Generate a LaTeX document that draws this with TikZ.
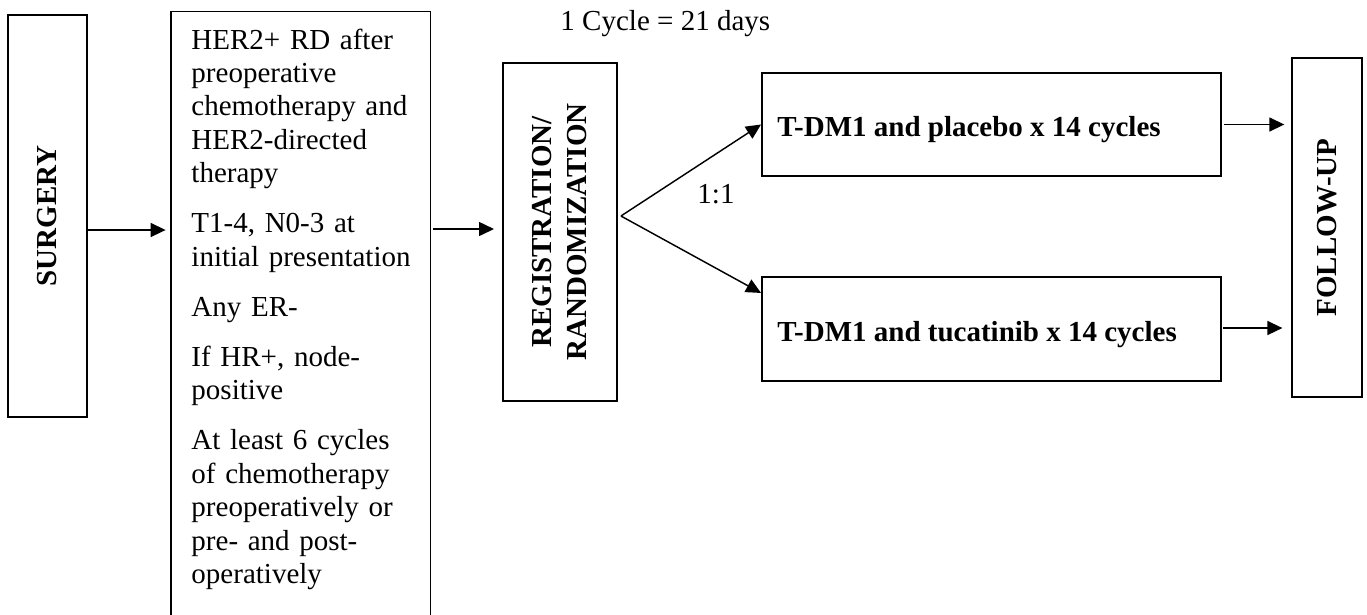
\documentclass[tikz,border=0pt,12pt]{standalone}
\usepackage{fontspec}
\setmainfont{Liberation Serif}
\usetikzlibrary{arrows.meta}

\begin{document}
\begin{tikzpicture}[x=0.41379pt, y=-0.41379pt,
  box/.style={draw, line width=0.83pt, inner sep=0pt},
  thinbox/.style={draw, line width=0.45pt, inner sep=0pt},
  vlabel/.style={rotate=90, font=\bfseries, align=center, inner sep=0pt},
  armtext/.style={anchor=base west, inner sep=0pt, font=\bfseries},
  crittext/.style={anchor=base west, inner sep=0pt, align=left, text width=97pt,
    font=\fontsize{12}{13.86}\selectfont},
  arr/.style={-{Triangle[length=6.2pt, width=5.8pt]}, line width=0.6pt}]
  \clip (0,0) rectangle (1367,614);
  \node[box, minimum width=32.7pt, minimum height=166.3pt] (surgery) at (47.5,216) {};
  \node[vlabel] (surgerytxt) at (surgery.center) {SURGERY};
  \node[thinbox, minimum width=107.2pt, minimum height=256.1pt] (crit) at (300.5,320.5) {};
  \node[crittext] (crittxt) at (191,49) {HER2+ RD after\\
    preoperative\\
    chemotherapy and\\
    HER2-directed\\
    therapy\\[6.8pt]
    T1-4, N0-3 at\\
    initial presentation\\[6.8pt]
    Any ER-\\[6.8pt]
    If HR+, node-\\
    positive\\[6.8pt]
    At least 6 cycles\\
    of chemotherapy\\
    preoperatively or\\
    pre- and post-\\
    operatively};
  \node[box, minimum width=47.2pt, minimum height=139.9pt] (reg) at (560,232) {};
  \node[vlabel] (regtxt) at (reg.center) {REGISTRATION/\\RANDOMIZATION};
  \node[box, minimum width=189.9pt, minimum height=42.6pt] (top) at (991.5,124.5) {};
  \node[box, minimum width=189.9pt, minimum height=43pt] (bottom) at (991.5,329) {};
  \node[armtext] (toptxt) at (777,136) {T-DM1 and placebo x 14 cycles};
  \node[armtext] (bottomtxt) at (777,341) {T-DM1 and tucatinib x 14 cycles};
  \node[box, line width=0.55pt, minimum width=29pt, minimum height=140.3pt] (followup) at (1327,227.5) {};
  \node[vlabel] (followuptxt) at (followup.center) {FOLLOW-UP};
  \node[anchor=base west, inner sep=0pt] (cycle) at (560,30) {1 Cycle = 21 days};
  \node[anchor=base west, inner sep=0pt] (ratio) at (697,203) {1:1};
  \coordinate (split) at ([xshift=1.2pt]reg.east |- 0,216);
  \draw[arr] (surgery.east |- 0,230) -- ([xshift=-2pt]crit.west |- 0,230);
  \draw[arr] ([xshift=1.2pt]crit.east |- 0,229) -- ([xshift=-3.3pt]reg.west |- 0,229);
  \draw[arr] (split) -- (top.west);
  \draw[arr] (split) -- ([yshift=-7pt]bottom.north west);
  \draw[arr] ([xshift=0.8pt]top.east) -- ([xshift=-2.9pt]followup.west |- top.east);
  \draw[arr] ([xshift=0.5pt]bottom.east |- 0,328) -- ([xshift=-3.7pt]followup.west |- 0,328);
\end{tikzpicture}
\end{document}
